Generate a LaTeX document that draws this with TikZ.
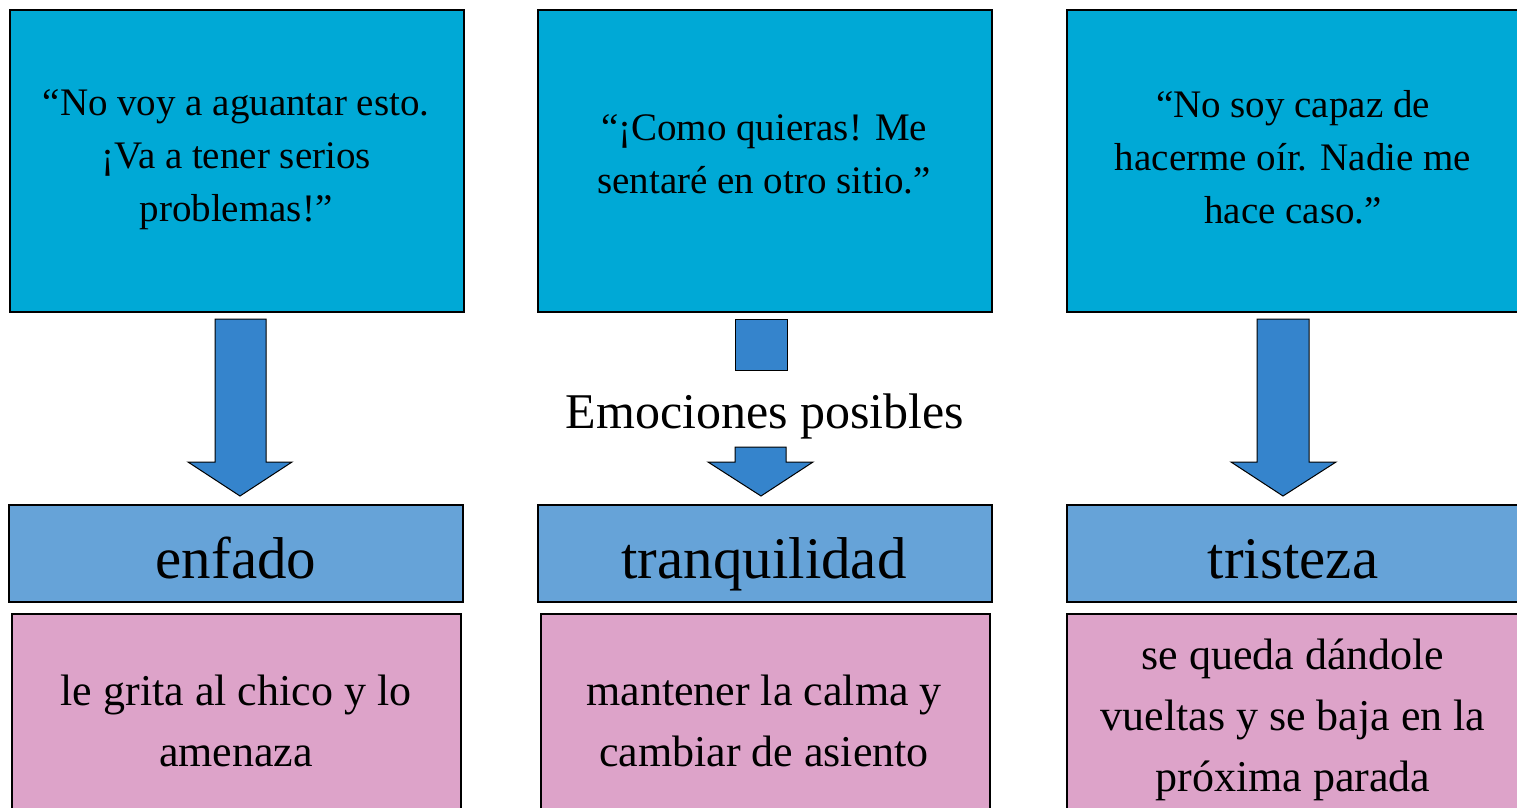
\documentclass[tikz,border=0pt]{standalone}
\usepackage{fontspec}
\setmainfont{Liberation Serif}
\definecolor{topc}{HTML}{00A9D6}
\definecolor{arrc}{HTML}{3584CC}
\definecolor{emoc}{HTML}{66A3D8}
\definecolor{pinkc}{HTML}{DDA3C9}
\tikzset{
  quotebox/.style={draw=black,line width=2pt,fill=topc,minimum width=454pt,minimum height=302pt,anchor=north west,inner sep=0pt},
  emobox/.style={draw=black,line width=2pt,fill=emoc,minimum width=454pt,minimum height=97pt,anchor=north west,inner sep=0pt},
  actbox/.style={draw=black,line width=2pt,fill=pinkc,minimum width=449pt,minimum height=220pt,anchor=north west,inner sep=0pt},
  qtext/.style={align=center,font=\fontsize{39}{53}\selectfont},
  etext/.style={anchor=base,font=\fontsize{59}{60}\selectfont},
  atext/.style={align=center,font=\fontsize{44}{61}\selectfont},
  blockarrow/.style={draw=black,line width=1pt,fill=arrc,line join=miter}
}
\begin{document}
\begin{tikzpicture}[x=1pt,y=-1pt]
\useasboundingbox (0,0) rectangle (1517,807);
\clip (0,0) rectangle (1517,807);
% top quote boxes
\node[quotebox] (q1) at (9,9) {};
\node[quotebox] (q2) at (537,9) {};
\node[quotebox] (q3) at (1066,9) {};
\node[qtext] (q1t) at (236,160) {“No voy a aguantar esto.\\¡Va a tener serios\\problemas!”};
\node[qtext] (q2t) at (764,154) {“¡Como quieras! Me\\sentaré en otro sitio.”};
\node[qtext] (q3t) at (1293,157) {“No soy capaz de\\hacerme oír. Nadie me\\hace caso.”};
% arrows
\draw[blockarrow] (215,319) -- (266,319) -- (266,462) -- (292,462) -- (240,496) -- (188,462) -- (215,462) -- cycle;
\draw[blockarrow] (1257,319) -- (1309,319) -- (1309,462) -- (1336,462) -- (1283,496) -- (1231,462) -- (1257,462) -- cycle;
\draw[blockarrow] (735,319) rectangle (787,370);
\draw[blockarrow] (735,447) -- (786,447) -- (786,462) -- (813,462) -- (761,496) -- (708,462) -- (735,462) -- cycle;
\node[anchor=base,font=\fontsize{50}{52}\selectfont] (lab) at (765,428) {Emociones posibles};
% emotion boxes
\node[emobox] (e1) at (8,504) {};
\node[emobox] (e2) at (537,504) {};
\node[emobox] (e3) at (1066,504) {};
\node[etext] at (236,578) {enfado};
\node[etext] at (764,578) {tranquilidad};
\node[etext] at (1293,578) {tristeza};
% action boxes
\node[actbox] (a1) at (11,613) {};
\node[actbox] (a2) at (540,613) {};
\node[actbox,minimum width=454pt] (a3) at (1066,613) {};
\node[atext] at (236,721) {le grita al chico y lo\\amenaza};
\node[atext] at (764,721) {mantener la calma y\\cambiar de asiento};
\node[atext] at (1293,720) {se queda dándole\\vueltas y se baja en la\\próxima parada};
\end{tikzpicture}
\end{document}
